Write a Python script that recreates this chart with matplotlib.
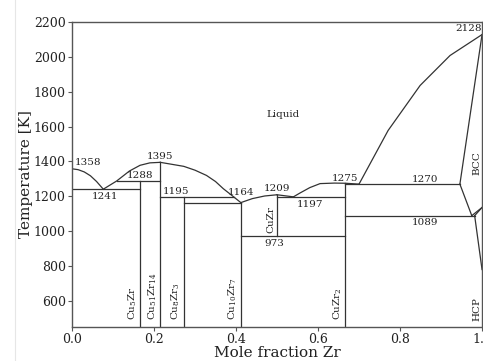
import matplotlib
matplotlib.use("Agg")
import matplotlib.pyplot as plt
from matplotlib.lines import Line2D

plt.rcParams['font.family'] = ['DejaVu Serif']
plt.rcParams['mathtext.fontset'] = 'dejavuserif'

# ---------------- data ----------------
# liquidus segments (mole fraction Zr, temperature K)
liq_cu_x = [0.0, 0.015, 0.03, 0.045, 0.06, 0.0764]
liq_cu_t = [1358, 1353, 1340, 1318, 1285, 1241]
liq_a_x = [0.0764, 0.109, 0.14, 0.166, 0.19, 0.2154]
liq_a_t = [1241, 1288, 1345, 1378, 1392, 1395]
liq_b_x = [0.2154, 0.2727, 0.30, 0.328, 0.35, 0.369, 0.39, 0.4118]
liq_b_t = [1395, 1372, 1350, 1320, 1285, 1244, 1205, 1164]
liq_c_x = [0.4118, 0.44, 0.47, 0.5]
liq_c_t = [1164, 1187, 1202, 1209]
liq_d_x = [0.5, 0.52, 0.54]
liq_d_t = [1209, 1203, 1197]
liq_e_x = [0.54, 0.556, 0.58, 0.605, 0.64, 0.667, 0.70]
liq_e_t = [1197, 1219, 1250, 1273, 1276, 1275, 1270]
liq_bcc_x = [0.70, 0.771, 0.849, 0.922, 1.0]
liq_bcc_t = [1270, 1578, 1836, 2008, 2128]
sol_bcc_x = [0.946, 1.0]
sol_bcc_t = [1270, 2128]
solv_bcc_x = [0.946, 0.975]
solv_bcc_t = [1270, 1089]
bcc_hcp1_x = [0.975, 1.0]
bcc_hcp1_t = [1089, 1136]
bcc_hcp2_x = [0.982, 1.0]
bcc_hcp2_t = [1089, 1136]
hcp_solv_x = [0.982, 1.0]
hcp_solv_t = [1089, 780]

curves = [(liq_cu_x, liq_cu_t), (liq_a_x, liq_a_t), (liq_b_x, liq_b_t),
          (liq_c_x, liq_c_t), (liq_d_x, liq_d_t), (liq_e_x, liq_e_t),
          (liq_bcc_x, liq_bcc_t), (sol_bcc_x, sol_bcc_t),
          (solv_bcc_x, solv_bcc_t), (bcc_hcp1_x, bcc_hcp1_t),
          (bcc_hcp2_x, bcc_hcp2_t), (hcp_solv_x, hcp_solv_t)]

# invariant (horizontal) lines: temperature, x start, x end
inv_t = [1241, 1288, 1195, 1164, 1197, 973, 1270, 1089]
inv_x0 = [0.0, 0.109, 0.2154, 0.2727, 0.5, 0.4118, 0.6667, 0.6667]
inv_x1 = [0.1667, 0.2154, 0.395, 0.4118, 0.6667, 0.6667, 0.946, 0.982]

# compounds: name, composition, top temperature, bottom temperature
comp_names = [r'Cu$_5$Zr', r'Cu$_{51}$Zr$_{14}$', r'Cu$_8$Zr$_3$',
              r'Cu$_{10}$Zr$_7$', r'CuZr', r'CuZr$_2$']
comp_x = [1/6, 14/65, 3/11, 7/17, 0.5, 2/3]
comp_top = [1288, 1395, 1195, 1164, 1209, 1275]
comp_bot = [450, 450, 450, 450, 973, 450]

# temperature annotations: text, x, T
lab_text = ['1358', '1241', '1288', '1395', '1195', '1164', '1209',
            '1197', '973', '1275', '1270', '1089', '2128']
lab_x = [0.0, 0.0764, 0.1667, 0.2154, 0.2154, 0.4118, 0.5,
         0.58, 0.493, 0.6667, 0.86, 0.86, 1.0]
lab_t = [1358, 1241, 1288, 1395, 1195, 1164, 1209,
         1197, 973, 1275, 1270, 1089, 2128]

xticks = [0.0, 0.2, 0.4, 0.6, 0.8, 1.0]
xtick_labels = ['0.0', '0.2', '0.4', '0.6', '0.8', '1.0']
yticks = [600, 800, 1000, 1200, 1400, 1600, 1800, 2000, 2200]

# ---------------- plot ----------------
fig = plt.figure(figsize=(4.83, 3.61), dpi=100)
ax = fig.add_axes([0.149, 0.094, 0.849, 0.845])
lc = '#333333'
lw = 0.9

for xs, ts in curves:
    ax.plot(xs, ts, color=lc, lw=lw)
for t, x0, x1 in zip(inv_t, inv_x0, inv_x1):
    ax.plot([x0, x1], [t, t], color=lc, lw=lw)
for name, x, top, bot in zip(comp_names, comp_x, comp_top, comp_bot):
    ax.plot([x, x], [bot, top], color=lc, lw=lw)
    ty = 488 if bot <= 450 else 988
    ax.text(x - 0.004, ty, name, rotation=90, ha='right', va='bottom',
            fontsize=7.5, color='#222222')

# annotations
offsets = {
    '1358': (2, 1, 'left', 'bottom'),
    '1241': (1, -2, 'center', 'top'),
    '1288': (0, 1, 'center', 'bottom'),
    '1395': (0, 1, 'center', 'bottom'),
    '1195': (2, 1, 'left', 'bottom'),
    '1164': (0, 4, 'center', 'bottom'),
    '1209': (0, 1, 'center', 'bottom'),
    '1197': (0, -2, 'center', 'top'),
    '973': (0, -2, 'center', 'top'),
    '1275': (0, 0, 'center', 'bottom'),
    '1270': (0, 0, 'center', 'bottom'),
    '1089': (0, -2, 'center', 'top'),
    '2128': (0, 1, 'right', 'bottom'),
}
for txt, x, t in zip(lab_text, lab_x, lab_t):
    dx, dy, ha, va = offsets[txt]
    ax.annotate(txt, (x, t), xytext=(dx, dy), textcoords='offset points',
                ha=ha, va=va, fontsize=7.5, color='#222222')

ax.text(0.514, 1670, 'Liquid', ha='center', va='center', fontsize=7.5, color='#222222')
ax.text(0.987, 1392, 'BCC', rotation=90, ha='center', va='center', fontsize=7.5, color='#222222')
ax.text(0.987, 552, 'HCP', rotation=90, ha='center', va='center', fontsize=7.5, color='#222222')

ax.set_xlim(0.0, 1.0)
ax.set_ylim(450, 2200)
ax.set_xticks(xticks)
ax.set_xticklabels(xtick_labels)
ax.set_yticks(yticks)
ax.tick_params(labelsize=9, length=3, pad=1.5, color='#555555', labelcolor='#222222')
for s in ax.spines.values():
    s.set_color('#555555')
    s.set_linewidth(1.0)
ax.set_xlabel('Mole fraction Zr', fontsize=11, color='#222222')
ax.set_ylabel('Temperature [K]', fontsize=11, color='#222222')
ax.xaxis.set_label_coords(0.5, -0.085)
ax.yaxis.set_label_coords(-0.112, 0.5)
ax.xaxis.label.set_va('center')
ax.yaxis.label.set_va('center')

fig.add_artist(Line2D([15/483, 15/483], [0, 1], transform=fig.transFigure,
                      color='#e6e6e6', lw=0.8))

fig.savefig('out.png', dpi=100)
